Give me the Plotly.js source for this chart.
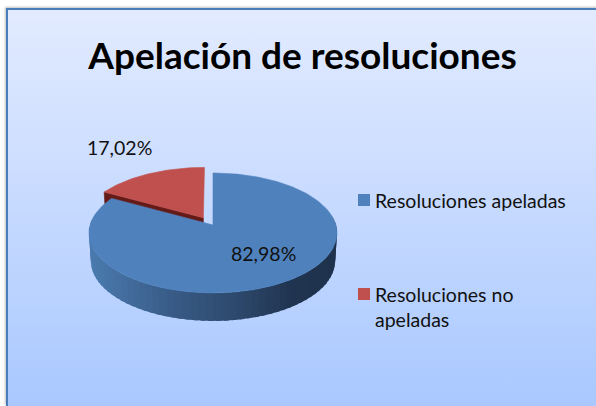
<!DOCTYPE html>
<html><head><meta charset="utf-8">
<script src="https://cdn.plot.ly/plotly-3.0.1.min.js"></script>
<style>
html,body{margin:0;padding:0;width:596px;height:406px;overflow:hidden;background:#fff}
#bg{position:absolute;left:6px;top:8px;width:640px;height:398px;box-sizing:border-box;border-left:2px solid #4a7ebb;border-top:2px solid #4a7ebb;background:linear-gradient(180deg,#e2ebff 0%,#cfdfff 35%,#a9c8ff 100%);box-shadow:-1px -1px 2px rgba(120,120,120,.45)}
#chart{position:absolute;left:0;top:0;width:596px;height:406px}
</style></head><body>
<div id="bg"></div><div id="chart"></div>
<script>
const titleText = 'Apelación de resoluciones';
const categories = ['Resoluciones apeladas', 'Resoluciones no apeladas'];
const legendLines = ['Resoluciones apeladas', 'Resoluciones no<br>apeladas'];
const shares = [82.98, 17.02];
const shareLabels = ['82,98%', '17,02%'];
const topColors = ['#4f81bd', '#c0504d'];
const wallDark = '#641a17';
const wallStops = [[90,[74,122,174]],[170,[56,91,134]],[240,[44,71,106]],[290,[32,52,80]],[338,[31,50,76]]];

// projection of the tilted pie disc onto chart units
const C = {x:213, y:225, a:122.9, b:58.9, k:0.133, depth:28};
function proj(u, v, drop){
  const d = 1 - C.k*v, s = drop ? 0.985 : 1;
  return [C.x + s*C.a*u/d, C.y + C.b*v/d + (drop ? C.depth : 0)];
}
function arc(a0, a1, off, drop){
  const n = Math.max(2, Math.ceil(Math.abs(a1-a0)/0.02)), pts = [];
  for(let i=0;i<=n;i++){
    const t = a0 + (a1-a0)*i/n;
    pts.push(proj(off[0]+Math.sin(t), off[1]-Math.cos(t), drop));
  }
  return pts;
}
function poly(pts, color, lw){
  return {type:'scatter', mode:'lines', x:pts.map(p=>p[0]), y:pts.map(p=>p[1]),
    fill:'toself', fillcolor:color, line:{color:color, width:lw===undefined?0.6:lw}, hoverinfo:'skip', showlegend:false};
}
function wallColor(x){
  for(let i=1;i<wallStops.length;i++){
    const [x0,c0]=wallStops[i-1],[x1,c1]=wallStops[i];
    if(x<=x1){const f=Math.max(0,(x-x0)/(x1-x0));
      return 'rgb('+c0.map((c,j)=>Math.round(c+(c1[j]-c)*f)).join(',')+')';}
  }
  return 'rgb('+wallStops[wallStops.length-1][1].join(',')+')';
}

const total = shares.reduce((a,b)=>a+b,0);
const sweepRed = 2*Math.PI*shares[1]/total;
const redStart = -sweepRed, off0 = [0,0], offRed = [-0.08,-0.124];
const traces = [];

// red slice: cut-face wall then top
const rimRed = arc(redStart, 0, offRed, false);
const rimRedLow = arc(redStart, 0, offRed, true);
const apexR = proj(offRed[0], offRed[1], false), apexRL = proj(offRed[0], offRed[1], true);
traces.push(poly([rimRed[0], apexR, apexRL, rimRedLow[0], rimRed[0]], wallDark));
traces.push(poly([apexR].concat(rimRed, [apexR]), topColors[1]));

// blue slice: outer wall in strips, then top
const blueArc = [0, 2*Math.PI*shares[0]/total];
const steps = 60, front0 = Math.PI/2 - 0.12, span = Math.PI + 0.24;
for(let i=0;i<steps;i++){
  // strips overlap the next one so no seam shows between them
  const t0 = front0 + span*i/steps, t1 = front0 + span*(i+1.6)/steps;
  const a = arc(t0,t1,off0,false), b = arc(t0,t1,off0,true).reverse();
  const mx = (a[0][0]+a[a.length-1][0])/2;
  traces.push(poly(a.concat(b,[a[0]]), wallColor(mx), 0));
}
const apexB = proj(0,0,false);
traces.push(poly([apexB].concat(arc(blueArc[0],blueArc[1],off0,false),[apexB]), topColors[0]));

// legend keys
traces.push({type:'scatter', mode:'markers', x:[364,364], y:[200,294], hoverinfo:'skip', showlegend:false,
  marker:{symbol:'square', size:12, color:topColors, line:{width:0}}});

const font = '"Lato","Open Sans",sans-serif';
const ann = (x,y,text,anchor)=>({xref:'x',yref:'y',x,y,text,showarrow:false,xanchor:anchor,yanchor:'middle',align:'left',
  font:{family:font,size:19.5,color:'#111'}});
const layout = {
  width:596, height:406, margin:{l:0,r:0,t:0,b:0}, paper_bgcolor:'rgba(0,0,0,0)', plot_bgcolor:'rgba(0,0,0,0)',
  showlegend:false,
  title:{text:'<b>'+titleText+'</b>', x:302.5/596, xanchor:'center', y:1-56/406, yanchor:'middle', font:{family:font,size:37,color:'#000'}},
  xaxis:{range:[0,596],visible:false,fixedrange:true},
  yaxis:{range:[406,0],visible:false,fixedrange:true},
  annotations:[ann(263,253,shareLabels[0],'center'), ann(119,147,shareLabels[1],'center'),
    ann(373,200.5,legendLines[0],'left'), ann(373,306.5,legendLines[1],'left')]
};
Plotly.newPlot('chart', traces, layout, {displayModeBar:false, staticPlot:true});
</script></body></html>
